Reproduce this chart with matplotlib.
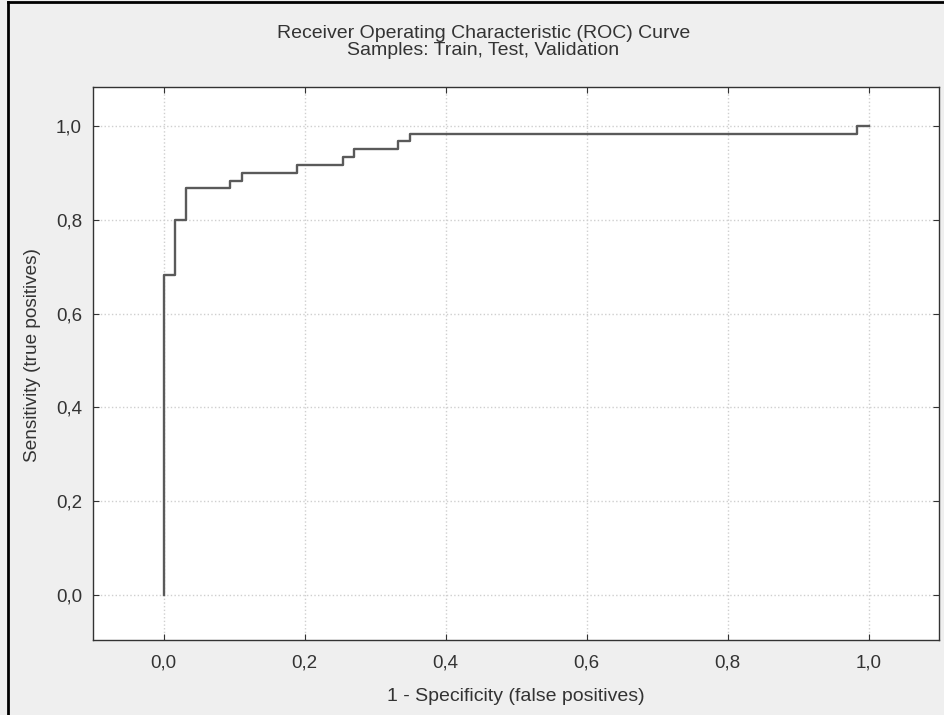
import matplotlib
matplotlib.use('Agg')
import matplotlib.pyplot as plt
from matplotlib.lines import Line2D
from matplotlib.ticker import FuncFormatter

plt.rcParams['font.family'] = ['Liberation Sans', 'DejaVu Sans']

# ROC points (1 - specificity, sensitivity)
fpr = [0.0, 0.0, 0.016, 0.032, 0.095, 0.111, 0.190, 0.254, 0.270, 0.333, 0.349, 0.984, 1.0]
tpr = [0.0, 0.683, 0.800, 0.867, 0.883, 0.900, 0.917, 0.933, 0.950, 0.967, 0.983, 1.0, 1.0]

ticks = [0.0, 0.2, 0.4, 0.6, 0.8, 1.0]

fig = plt.figure(figsize=(9.44, 7.15), dpi=100, facecolor='#efefef')
ax = fig.add_axes([93 / 944, 75 / 715, 846 / 944, 553 / 715])
ax.set_facecolor('white')

ax.plot(fpr, tpr, drawstyle='steps-post', color='#5a5a5a', linewidth=1.7, zorder=3)

ax.set_xlim(-0.1, 1.1)
ax.set_ylim(-0.096, 1.083)
ax.set_xticks(ticks)
ax.set_yticks(ticks)
comma = FuncFormatter(lambda v, p: f"{v:.1f}".replace('.', ','))
ax.xaxis.set_major_formatter(comma)
ax.yaxis.set_major_formatter(comma)
ax.tick_params(direction='in', length=4, width=0.8, colors='#333333',
               labelcolor='#333333', labelsize=13.5, top=True, right=True)
ax.tick_params(axis='x', pad=10.5)
ax.tick_params(axis='y', pad=8)
ax.grid(True, color='#cfcfcf', linestyle=':', linewidth=1.0)

for s in ax.spines.values():
    s.set_color('#333333')
    s.set_linewidth(1.0)

ax.set_xlabel('1 - Specificity (false positives)', fontsize=14, color='#333333', labelpad=11.5)
ax.set_ylabel('Sensitivity (true positives)', fontsize=13.7, color='#333333')
ax.yaxis.set_label_coords(-0.0615, 0.515)

fig.text(0.512, 1 - 38 / 715, 'Receiver Operating Characteristic (ROC) Curve', ha='center',
         va='baseline', fontsize=14, color='#333333')
fig.text(0.512, 1 - 55 / 715, 'Samples: Train, Test, Validation', ha='center',
         va='baseline', fontsize=14, color='#333333')

# outer black frame, top and left only
fig.lines.append(Line2D([0.009, 0.009], [0, 0.997], transform=fig.transFigure,
                        color='black', linewidth=2.0))
fig.lines.append(Line2D([0.009, 1.0], [0.997, 0.997], transform=fig.transFigure,
                        color='black', linewidth=2.0))

plt.savefig('out.png', dpi=100, facecolor=fig.get_facecolor())
